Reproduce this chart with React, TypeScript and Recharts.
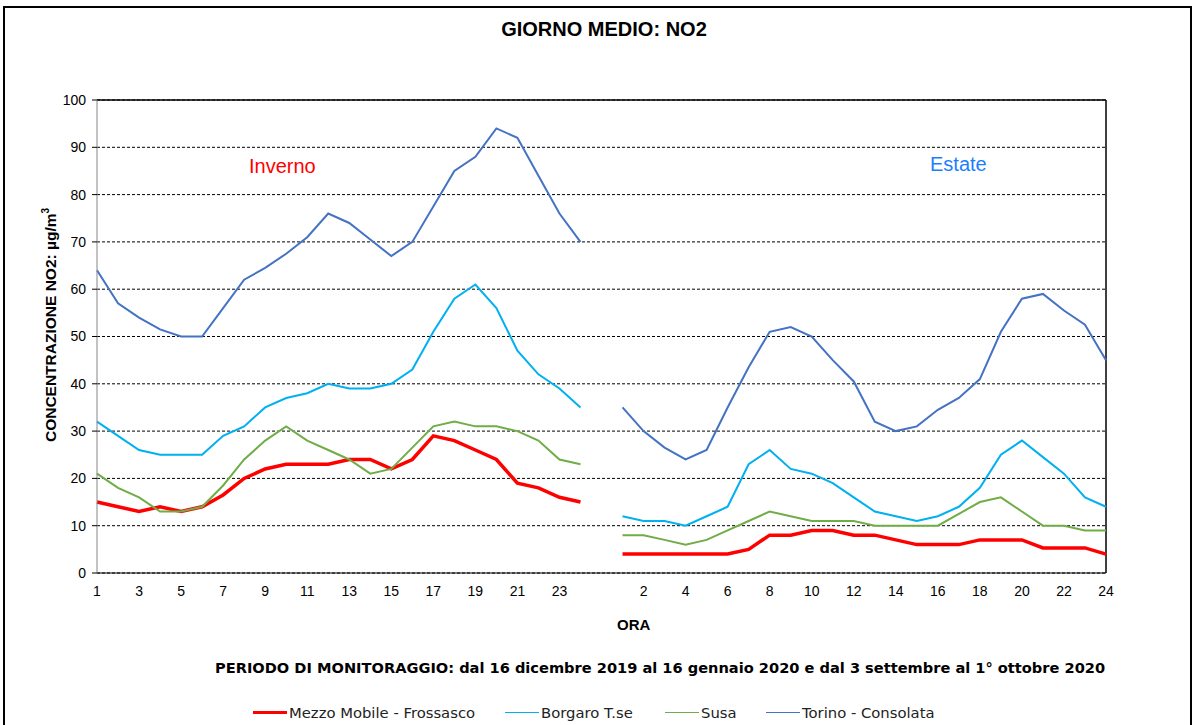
import { LineChart, Line, XAxis, YAxis, CartesianGrid, ReferenceLine } from "recharts";

// ore del giorno (inverno: 1-24, pausa, estate: 1-24)
const oreInverno = ["1", "2", "3", "4", "5", "6", "7", "8", "9", "10", "11", "12", "13", "14", "15", "16", "17", "18", "19", "20", "21", "22", "23", "24"];
const oreEstate = ["1", "2", "3", "4", "5", "6", "7", "8", "9", "10", "11", "12", "13", "14", "15", "16", "17", "18", "19", "20", "21", "22", "23", "24"];

// tick mostrati: ore dispari in inverno, ore pari in estate
const tickIdx = [0, 2, 4, 6, 8, 10, 12, 14, 16, 18, 20, 22, 24, 26, 28, 30, 32, 34, 36, 38, 40, 42, 44, 46, 48];
const yTicks = [0, 10, 20, 30, 40, 50, 60, 70, 80, 90, 100];

// valori medi orari NO2 (µg/m³) - inverno
const mezzoInverno = [15, 14, 13, 14, 13, 14, 16.5, 20, 22, 23, 23, 23, 24, 24, 22, 24, 29, 28, 26, 24, 19, 18, 16, 15];
const borgaroInverno = [32, 29, 26, 25, 25, 25, 29, 31, 35, 37, 38, 40, 39, 39, 40, 43, 51, 58, 61, 56, 47, 42, 39, 35];
const susaInverno = [21, 18, 16, 13, 13, 14, 18.5, 24, 28, 31, 28, 26, 24, 21, 22, 26.5, 31, 32, 31, 31, 30, 28, 24, 23];
const torinoInverno = [64, 57, 54, 51.5, 50, 50, 56, 62, 64.5, 67.5, 71, 76, 74, 70.5, 67, 70, 77.5, 85, 88, 94, 92, 84, 76, 70];

// valori medi orari NO2 (µg/m³) - estate
const mezzoEstate = [4, 4, 4, 4, 4, 4, 5, 8, 8, 9, 9, 8, 8, 7, 6, 6, 6, 7, 7, 7, 5.3, 5.3, 5.3, 4];
const borgaroEstate = [12, 11, 11, 10, 12, 14, 23, 26, 22, 21, 19, 16, 13, 12, 11, 12, 14, 18, 25, 28, 24.5, 21, 16, 14];
const susaEstate = [8, 8, 7, 6, 7, 9, 11, 13, 12, 11, 11, 11, 10, 10, 10, 10, 12.5, 15, 16, 13, 10, 10, 9, 9];
const torinoEstate = [35, 30, 26.5, 24, 26, 35, 43.5, 51, 52, 50, 45, 40.5, 32, 30, 31, 34.5, 37, 41, 51, 58, 59, 55.5, 52.5, 45];

const serie = [
  { key: "mezzo", name: "Mezzo Mobile - Frossasco", color: "#FF0000", width: 3.5, legW: 3.5, left: 253 },
  { key: "borgaro", name: "Borgaro T.se", color: "#00B0F0", width: 2, legW: 1.5, left: 505 },
  { key: "susa", name: "Susa", color: "#70AD47", width: 2, legW: 1.5, left: 665 },
  { key: "torino", name: "Torino - Consolata", color: "#4472C4", width: 2, legW: 1.5, left: 766 },
];

type Row = { i: number; ora: string; [k: string]: number | string | null };

const data: Row[] = [
  ...oreInverno.map((ora, k) => ({
    i: k,
    ora,
    mezzo: mezzoInverno[k],
    borgaro: borgaroInverno[k],
    susa: susaInverno[k],
    torino: torinoInverno[k],
  })),
  { i: oreInverno.length, ora: "", mezzo: null, borgaro: null, susa: null, torino: null },
  ...oreEstate.map((ora, k) => ({
    i: oreInverno.length + 1 + k,
    ora,
    mezzo: mezzoEstate[k],
    borgaro: borgaroEstate[k],
    susa: susaEstate[k],
    torino: torinoEstate[k],
  })),
];

const font = "'Liberation Sans', Arial, sans-serif";
const fontLarga = "'DejaVu Sans', Verdana, sans-serif";

export default function App() {
  return (
    <div style={{ position: "absolute", left: 0, top: 0, width: 1195, height: 725, background: "#fff", overflow: "hidden" }}>
      {/* cornice esterna */}
      <div style={{ position: "absolute", left: 3, top: 6, width: 1185, height: 740, border: "2px solid #000" }} />

      <div style={{ position: "absolute", left: 0, top: 18, width: 1208, textAlign: "center", fontFamily: font, fontWeight: 700, fontSize: 20 }}>
        GIORNO MEDIO: NO2
      </div>

      <div style={{ position: "absolute", left: 0, top: 0 }}>
        {/* l'asse X occupa 30px sotto l'area del grafico */}
        <LineChart width={1195} height={725} data={data} margin={{ top: 100, right: 89, bottom: 122, left: 0 }}>
          <CartesianGrid vertical={false} stroke="#000" strokeDasharray="3 2" />
          <XAxis
            dataKey="i"
            type="number"
            domain={[0, 48]}
            ticks={tickIdx}
            tickFormatter={(v: number) => data[v]?.ora ?? ""}
            interval={0}
            tickLine={false}
            tickSize={0}
            tickMargin={13}
            stroke="#000"
            tick={{ fill: "#000", fontSize: 14, fontFamily: font }}
          />
          <YAxis
            domain={[0, 100]}
            ticks={yTicks}
            width={97}
            tickSize={5}
            tickMargin={6}
            stroke="#868686"
            tick={{ fill: "#000", fontSize: 14, fontFamily: font }}
            tickLine={{ stroke: "#000" }}
          />
          <ReferenceLine y={100} stroke="#000" strokeWidth={1.5} />
          <ReferenceLine x={48} stroke="#000" strokeWidth={1.5} />
          {serie.map((s) => (
            <Line
              key={s.key}
              dataKey={s.key}
              name={s.name}
              stroke={s.color}
              strokeWidth={s.width}
              dot={false}
              activeDot={false}
              connectNulls={false}
              isAnimationActive={false}
            />
          ))}
        </LineChart>
      </div>

      <div style={{ position: "absolute", left: 249, top: 155, color: "#FF0000", fontFamily: font, fontSize: 20 }}>Inverno</div>
      <div style={{ position: "absolute", left: 930, top: 153, color: "#1A7FFF", fontFamily: font, fontSize: 20 }}>Estate</div>

      <div
        style={{
          position: "absolute",
          left: 50,
          top: 325,
          transform: "translate(-50%, -50%) rotate(-90deg)",
          whiteSpace: "nowrap",
          fontFamily: font,
          fontWeight: 700,
          fontSize: 15.5,
        }}
      >
        CONCENTRAZIONE NO2: µg/m<sup style={{ fontSize: 10 }}>3</sup>
      </div>

      <div style={{ position: "absolute", left: 617, top: 616, fontFamily: font, fontWeight: 700, fontSize: 15 }}>ORA</div>

      <div style={{ position: "absolute", left: 215, top: 659, fontFamily: fontLarga, fontWeight: 700, fontSize: 14.6, whiteSpace: "nowrap" }}>
        PERIODO DI MONITORAGGIO: dal 16 dicembre 2019 al 16 gennaio 2020 e dal 3 settembre al 1° ottobre 2020
      </div>

      {/* legenda */}
      {serie.map((s) => (
        <div key={s.key} style={{ position: "absolute", left: s.left, top: 704, display: "flex", alignItems: "center", fontFamily: fontLarga, fontSize: 14.8, color: "#222", whiteSpace: "nowrap" }}>
          <span style={{ display: "inline-block", width: 34, height: s.legW, background: s.color, marginRight: 2 }} />
          <span>{s.name}</span>
        </div>
      ))}
    </div>
  );
}
